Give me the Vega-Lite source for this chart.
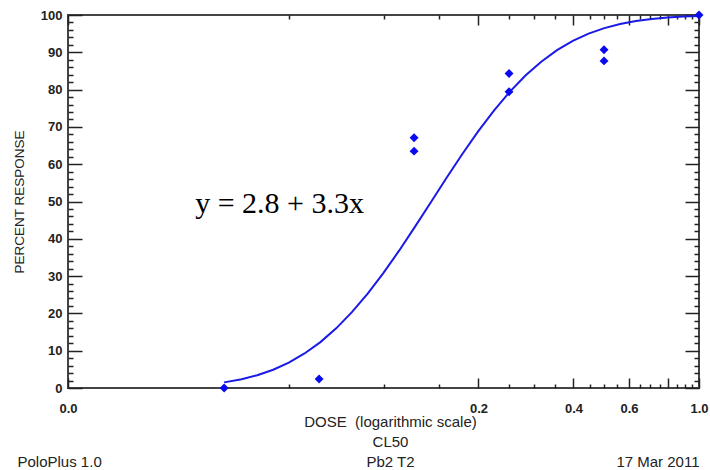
{
  "$schema": "https://vega.github.io/schema/vega-lite/v6.json",
  "width": 631,
  "height": 373,
  "autosize": {"type": "none"},
  "padding": {"left": 68, "top": 15, "right": 11, "bottom": 82},
  "background": "white",
  "config": {
    "view": {"stroke": "#444", "strokeWidth": 2},
    "axis": {
      "domain": false,
      "grid": false,
      "tickColor": "#222",
      "tickWidth": 1.5,
      "labelFont": "Liberation Sans",
      "labelFontSize": 13,
      "labelFontWeight": "bold",
      "labelColor": "#222",
      "labelFlush": false,
      "labelOverlap": false,
      "titleFont": "Liberation Sans",
      "titleFontWeight": "normal",
      "titleColor": "#222"
    }
  },
  "datasets": {
    "curve": [
      {"dose": 0.03125, "pct": 1.51},
      {"dose": 0.0355, "pct": 2.36},
      {"dose": 0.0398, "pct": 3.44},
      {"dose": 0.0447, "pct": 4.9},
      {"dose": 0.0501, "pct": 6.81},
      {"dose": 0.0562, "pct": 9.26},
      {"dose": 0.0631, "pct": 12.3},
      {"dose": 0.0708, "pct": 15.99},
      {"dose": 0.0794, "pct": 20.33},
      {"dose": 0.0891, "pct": 25.3},
      {"dose": 0.1, "pct": 30.85},
      {"dose": 0.1122, "pct": 36.88},
      {"dose": 0.1259, "pct": 43.25},
      {"dose": 0.1413, "pct": 49.8},
      {"dose": 0.1585, "pct": 56.36},
      {"dose": 0.1778, "pct": 62.74},
      {"dose": 0.1995, "pct": 68.79},
      {"dose": 0.2239, "pct": 74.38},
      {"dose": 0.2512, "pct": 79.39},
      {"dose": 0.2818, "pct": 83.77},
      {"dose": 0.3162, "pct": 87.49},
      {"dose": 0.3548, "pct": 90.57},
      {"dose": 0.3981, "pct": 93.06},
      {"dose": 0.4467, "pct": 95.0},
      {"dose": 0.5012, "pct": 96.49},
      {"dose": 0.5623, "pct": 97.59},
      {"dose": 0.631, "pct": 98.38},
      {"dose": 0.7079, "pct": 98.94},
      {"dose": 0.7943, "pct": 99.32},
      {"dose": 0.8913, "pct": 99.58},
      {"dose": 1, "pct": 99.74}
    ],
    "obs": [
      {"dose": 0.03125, "pct": 0, "rep": 1},
      {"dose": 0.0625, "pct": 2.4, "rep": 1},
      {"dose": 0.125, "pct": 63.5, "rep": 1},
      {"dose": 0.25, "pct": 79.4, "rep": 1},
      {"dose": 0.5, "pct": 87.7, "rep": 1},
      {"dose": 1, "pct": 100, "rep": 1},
      {"dose": 0.125, "pct": 67.1, "rep": 2},
      {"dose": 0.25, "pct": 84.3, "rep": 2},
      {"dose": 0.5, "pct": 90.7, "rep": 2}
    ],
    "note": [
      {"dose": 0.0253, "pct": 46.9, "label": "y = 2.8 + 3.3x"}
    ]
  },
  "resolve": {"axis": {"x": "independent", "y": "independent"}},
  "layer": [
    {
      "data": {"name": "curve"},
      "mark": {"type": "line", "color": "#1a1ae6", "strokeWidth": 2},
      "encoding": {
        "x": {
          "field": "dose", "type": "quantitative",
          "scale": {"type": "log", "domain": [0.01, 1], "nice": false},
          "axis": {
            "orient": "bottom",
            "values": [0.01, 0.05, 0.1, 0.15, 0.2, 0.25, 0.3, 0.35, 0.4, 0.45, 0.5, 0.55, 0.6, 0.65, 0.7, 0.75, 0.8, 0.85, 0.9, 0.95, 1],
            "tickSize": {"condition": {"test": "indexof([0.01,0.2,0.4,0.6,0.8,1], datum.value) >= 0", "value": -10}, "value": -4},
            "labelExpr": "indexof([0.01,0.2,0.4,0.6,1], datum.value) >= 0 ? format(datum.value, '.1f') : ''",
            "labelPadding": 24,
            "title": ["DOSE\u00a0 (logarithmic scale)", "CL50", "Pb2 T2"],
            "titleFontSize": 15,
            "titleLineHeight": 20,
            "titlePadding": -7,
            "titleX": 322,
            "titleAlign": "center"
          }
        },
        "y": {
          "field": "pct", "type": "quantitative",
          "scale": {"domain": [0, 100], "nice": false, "zero": false},
          "axis": {
            "orient": "left",
            "values": [0, 2, 4, 6, 8, 10, 12, 14, 16, 18, 20, 22, 24, 26, 28, 30, 32, 34, 36, 38, 40, 42, 44, 46, 48, 50, 52, 54, 56, 58, 60, 62, 64, 66, 68, 70, 72, 74, 76, 78, 80, 82, 84, 86, 88, 90, 92, 94, 96, 98, 100],
            "tickSize": {"condition": {"test": "datum.value % 10 === 0", "value": -14}, "value": -5},
            "labelExpr": "datum.value % 10 === 0 ? datum.label : ''",
            "labelPadding": 20,
            "title": "PERCENT RESPONSE",
            "titleFontSize": 13.5,
            "titlePadding": 14
          }
        }
      }
    },
    {
      "data": {"name": "obs"},
      "transform": [{"filter": "datum.rep === 1"}],
      "mark": {"type": "point", "shape": "diamond", "filled": true, "color": "#0a0af0", "size": 80, "opacity": 1},
      "encoding": {
        "x": {
          "field": "dose", "type": "quantitative",
          "scale": {"type": "log", "domain": [0.01, 1], "nice": false},
          "axis": {
            "orient": "top",
            "values": [0.01, 0.05, 0.1, 0.15, 0.2, 0.25, 0.3, 0.35, 0.4, 0.45, 0.5, 0.55, 0.6, 0.65, 0.7, 0.75, 0.8, 0.85, 0.9, 0.95, 1],
            "tickSize": {"condition": {"test": "indexof([0.01,0.2,0.4,0.6,0.8,1], datum.value) >= 0", "value": -10}, "value": -4},
            "labels": false,
            "title": null
          }
        },
        "y": {
          "field": "pct", "type": "quantitative",
          "scale": {"domain": [0, 100], "nice": false, "zero": false},
          "axis": {
            "orient": "right",
            "values": [0, 2, 4, 6, 8, 10, 12, 14, 16, 18, 20, 22, 24, 26, 28, 30, 32, 34, 36, 38, 40, 42, 44, 46, 48, 50, 52, 54, 56, 58, 60, 62, 64, 66, 68, 70, 72, 74, 76, 78, 80, 82, 84, 86, 88, 90, 92, 94, 96, 98, 100],
            "tickSize": {"condition": {"test": "datum.value % 10 === 0", "value": -14}, "value": -5},
            "labels": false,
            "title": null
          }
        }
      }
    },
    {
      "data": {"name": "obs"},
      "transform": [{"filter": "datum.rep === 2"}],
      "mark": {"type": "point", "shape": "diamond", "filled": true, "color": "#0a0af0", "size": 80, "opacity": 1},
      "encoding": {
        "x": {
          "field": "dose", "type": "quantitative",
          "scale": {"type": "log", "domain": [0.01, 1], "nice": false},
          "axis": {
            "orient": "bottom",
            "ticks": false,
            "labels": false,
            "title": "PoloPlus 1.0",
            "titleX": -51,
            "titleAlign": "left",
            "titleFontSize": 15,
            "titlePadding": 66
          }
        },
        "y": {
          "field": "pct", "type": "quantitative",
          "scale": {"domain": [0, 100], "nice": false, "zero": false},
          "axis": null
        }
      }
    },
    {
      "data": {"name": "note"},
      "mark": {"type": "text", "font": "Liberation Serif", "fontSize": 30, "color": "#000", "align": "left", "baseline": "alphabetic"},
      "encoding": {
        "x": {
          "field": "dose", "type": "quantitative",
          "scale": {"type": "log", "domain": [0.01, 1], "nice": false},
          "axis": {
            "orient": "bottom",
            "ticks": false,
            "labels": false,
            "title": "17 Mar 2011",
            "titleAnchor": "end",
            "titleFontSize": 15,
            "titlePadding": 66
          }
        },
        "y": {
          "field": "pct", "type": "quantitative",
          "scale": {"domain": [0, 100], "nice": false, "zero": false},
          "axis": null
        },
        "text": {"field": "label"}
      }
    }
  ]
}
